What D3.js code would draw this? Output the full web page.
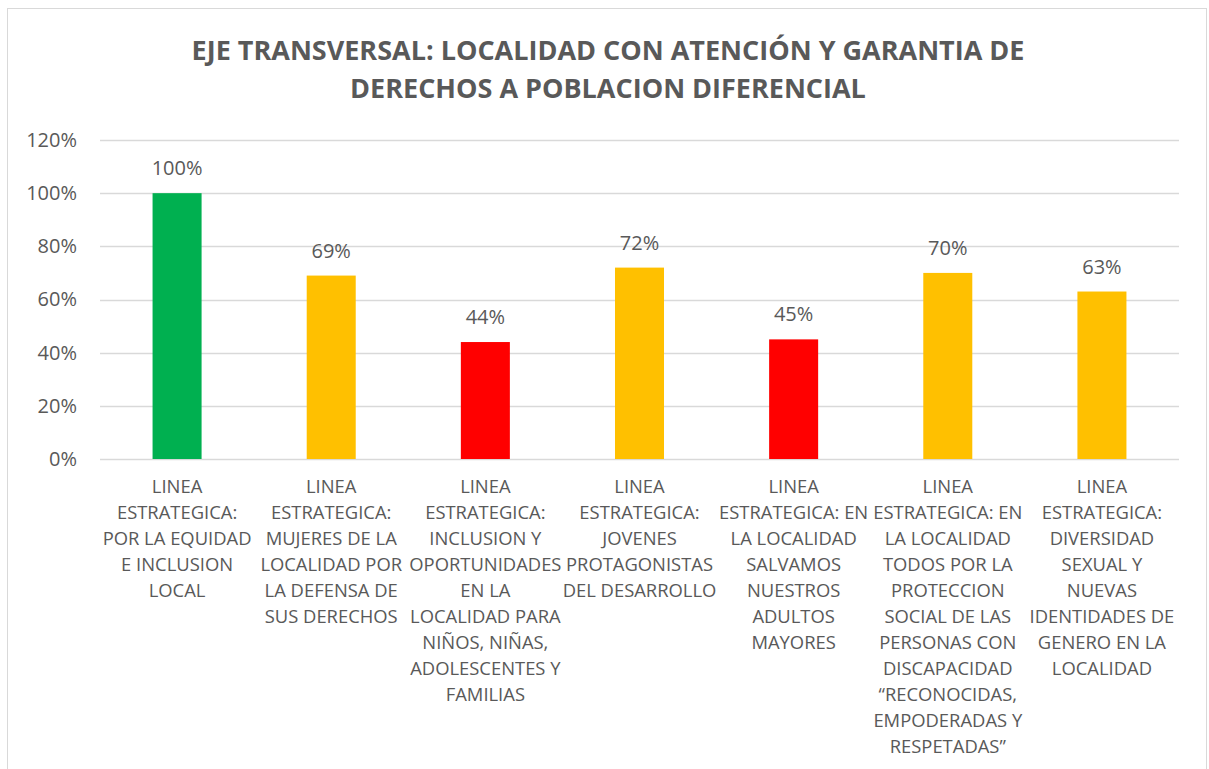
<!DOCTYPE html>
<html>
<head>
<meta charset="utf-8">
<script src="https://cdn.jsdelivr.net/npm/d3@7"></script>
<style>
  body { margin: 0; background: #fff; }
  svg text { font-family: "Open Sans", Lato, "Liberation Sans", sans-serif; fill: #595959; }
</style>
</head>
<body>
<svg id="chart" width="1209" height="769"></svg>
<script>
// data
var titleLines = ["EJE TRANSVERSAL: LOCALIDAD CON ATENCIÓN Y GARANTIA DE", "DERECHOS A POBLACION DIFERENCIAL"];
var categories = [
  ["LINEA", "ESTRATEGICA:", "POR LA EQUIDAD", "E INCLUSION", "LOCAL"],
  ["LINEA", "ESTRATEGICA:", "MUJERES DE LA", "LOCALIDAD POR", "LA DEFENSA DE", "SUS DERECHOS"],
  ["LINEA", "ESTRATEGICA:", "INCLUSION Y", "OPORTUNIDADES", "EN LA", "LOCALIDAD PARA", "NIÑOS, NIÑAS,", "ADOLESCENTES Y", "FAMILIAS"],
  ["LINEA", "ESTRATEGICA:", "JOVENES", "PROTAGONISTAS", "DEL DESARROLLO"],
  ["LINEA", "ESTRATEGICA: EN", "LA LOCALIDAD", "SALVAMOS", "NUESTROS", "ADULTOS", "MAYORES"],
  ["LINEA", "ESTRATEGICA: EN", "LA LOCALIDAD", "TODOS POR LA", "PROTECCION", "SOCIAL DE LAS", "PERSONAS CON", "DISCAPACIDAD", "“RECONOCIDAS,", "EMPODERADAS Y", "RESPETADAS”"],
  ["LINEA", "ESTRATEGICA:", "DIVERSIDAD", "SEXUAL Y", "NUEVAS", "IDENTIDADES DE", "GENERO EN LA", "LOCALIDAD"]
];
var values = [1.00, 0.69, 0.44, 0.72, 0.45, 0.70, 0.63];
var barColors = ["#00B050", "#FFC000", "#FF0000", "#FFC000", "#FF0000", "#FFC000", "#FFC000"];
var yTicks = [0, 0.2, 0.4, 0.6, 0.8, 1.0, 1.2];

var svg = d3.select("#chart");
var fmt = d3.format(".0%");

// chart frame
svg.append("rect")
  .attr("x", 7.5).attr("y", 8.5)
  .attr("width", 1199).attr("height", 780)
  .attr("fill", "#fff").attr("stroke", "#d9d9d9").attr("stroke-width", 1);

svg.selectAll(".title").data(titleLines).enter().append("text")
  .attr("x", 608).attr("y", function(d, i){ return 60 + i * 38; })
  .attr("text-anchor", "middle")
  .style("font-size", "27px").style("font-weight", "bold")
  .text(function(d){ return d; });

var x = d3.scaleBand().domain(d3.range(values.length)).range([100, 1179]).padding(0);
var y = d3.scaleLinear().domain([0, 1.2]).range([459, 140]);
var barW = x.bandwidth() * 0.318;

// gridlines
svg.selectAll(".grid").data(yTicks).enter().append("line")
  .attr("x1", 100).attr("x2", 1179)
  .attr("y1", function(d){ return Math.round(y(d)) + 0.5; })
  .attr("y2", function(d){ return Math.round(y(d)) + 0.5; })
  .attr("stroke", "#d9d9d9").attr("stroke-width", 1.3);

var yAxis = svg.append("g").attr("transform", "translate(100,0)")
  .call(d3.axisLeft(y).tickValues(yTicks).tickFormat(fmt).tickSize(0).tickPadding(23));
yAxis.select(".domain").remove();
yAxis.selectAll("text").style("font-size", "20px").attr("fill", "#595959")
  .style("font-family", "'Open Sans', Lato, sans-serif");

// bars
svg.selectAll(".bar").data(values).enter().append("rect")
  .attr("x", function(d, i){ return x(i) + (x.bandwidth() - barW) / 2; })
  .attr("y", function(d){ return y(d); })
  .attr("width", barW)
  .attr("height", function(d){ return y(0) - y(d); })
  .attr("fill", function(d, i){ return barColors[i]; });

// data labels
svg.selectAll(".lbl").data(values).enter().append("text")
  .attr("x", function(d, i){ return x(i) + x.bandwidth() / 2; })
  .attr("y", function(d){ return y(d) - 18; })
  .attr("text-anchor", "middle")
  .style("font-size", "20px")
  .text(function(d){ return fmt(d); });

// category labels
var cats = svg.selectAll(".cat").data(categories).enter().append("text")
  .attr("text-anchor", "middle")
  .style("font-size", "18.4px");
cats.selectAll("tspan").data(function(d, i){ return d.map(function(s){ return {s: s, i: i}; }); })
  .enter().append("tspan")
  .attr("x", function(d){ return x(d.i) + x.bandwidth() / 2; })
  .attr("y", function(d, j){ return 493 + j * 26; })
  .text(function(d){ return d.s; });
</script>
</body>
</html>
